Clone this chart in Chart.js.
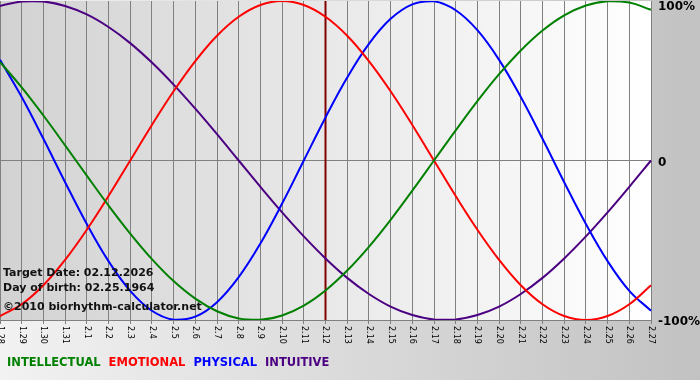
<!DOCTYPE html>
<html>
<head>
<meta charset="utf-8">
<script src="https://cdn.jsdelivr.net/npm/chart.js@4.4.1/dist/chart.umd.min.js"></script>
<style>
  html, body { margin: 0; padding: 0; background: #fff; }
  canvas { display: block; }
</style>
</head>
<body>
<canvas id="bio" width="700" height="380"></canvas>
<script>
// Biorhythm chart -- 31 days around the target date, one value per day.
var DAYS = ["1.28", "1.29", "1.30", "1.31", "2.1", "2.2", "2.3", "2.4", "2.5", "2.6",
  "2.7", "2.8", "2.9", "2.10", "2.11", "2.12", "2.13", "2.14", "2.15", "2.16", "2.17",
  "2.18", "2.19", "2.20", "2.21", "2.22", "2.23", "2.24", "2.25", "2.26", "2.27"];

var INTELLECTUAL = [0.618, 0.458, 0.282, 0.095, -0.095, -0.282, -0.458, -0.618, -0.756, -0.866,
  -0.945, -0.990, -0.999, -0.972, -0.910, -0.815, -0.690, -0.541, -0.372, -0.189, 0,
  0.189, 0.372, 0.541, 0.690, 0.815, 0.910, 0.972, 0.999, 0.990, 0.945];
var EMOTIONAL = [-0.975, -0.901, -0.782, -0.623, -0.434, -0.223, 0, 0.223, 0.434, 0.623,
  0.782, 0.901, 0.975, 1, 0.975, 0.901, 0.782, 0.623, 0.434, 0.223, 0,
  -0.223, -0.434, -0.623, -0.782, -0.901, -0.975, -1, -0.975, -0.901, -0.782];
var PHYSICAL = [0.631, 0.398, 0.136, -0.136, -0.398, -0.631, -0.817, -0.942, -0.998, -0.979,
  -0.888, -0.731, -0.520, -0.270, 0, 0.270, 0.520, 0.731, 0.888, 0.979, 0.998,
  0.942, 0.817, 0.631, 0.398, 0.136, -0.136, -0.398, -0.631, -0.817, -0.942];
var INTUITIVE = [0.969, 0.997, 0.997, 0.969, 0.916, 0.837, 0.736, 0.614, 0.476, 0.325,
  0.165, 0, -0.165, -0.325, -0.476, -0.614, -0.736, -0.837, -0.916, -0.969, -0.997,
  -0.997, -0.969, -0.916, -0.837, -0.736, -0.614, -0.476, -0.325, -0.165, 0];

var SERIES_NAMES = ["INTELLECTUAL", "EMOTIONAL", "PHYSICAL", "INTUITIVE"];
var Y_TICKS = [1, 0, -1];
var Y_TICK_LABELS = ["100%", "0", "-100%"];
var TARGET_DAY = "2.12";
var INFO_LINES = ["Target Date: 02.12.2026", "Day of birth: 02.25.1964", "\u00a92010 biorhythm-calculator.net"];

var COLORS = {
  INTELLECTUAL: "#008000",
  EMOTIONAL: "#ff0000",
  PHYSICAL: "#0000ff",
  INTUITIVE: "#4b0082",
};
var FONT = "'DejaVu Sans', Verdana, sans-serif";

function dataset(name, values) {
  return {
    label: name,
    data: values,
    borderColor: COLORS[name],
    borderWidth: 2,
    pointRadius: 0,
    tension: 0.4,
    fill: false,
  };
}

var decorations = {
  id: "decorations",
  beforeDraw: function (chart) {
    var ctx = chart.ctx, a = chart.chartArea;
    ctx.save();
    var bg = ctx.createLinearGradient(0, 0, chart.width, 0);
    bg.addColorStop(0, "#f2f2f2");
    bg.addColorStop(1, "#c2c2c2");
    ctx.fillStyle = bg;
    ctx.fillRect(0, 0, chart.width, chart.height);
    var pg = ctx.createLinearGradient(a.left, 0, a.right, 0);
    pg.addColorStop(0, "#d2d2d2");
    pg.addColorStop(1, "#ffffff");
    ctx.fillStyle = pg;
    ctx.fillRect(a.left, a.top, a.right - a.left, a.bottom - a.top);
    ctx.restore();
  },
  beforeDatasetsDraw: function (chart) {
    var ctx = chart.ctx, a = chart.chartArea;
    var x = chart.scales.x.getPixelForValue(DAYS.indexOf(TARGET_DAY));
    ctx.save();
    ctx.strokeStyle = "#800000";
    ctx.lineWidth = 2;
    ctx.beginPath();
    ctx.moveTo(x, a.top);
    ctx.lineTo(x, a.bottom);
    ctx.stroke();
    ctx.restore();
  },
  afterDraw: function (chart) {
    var ctx = chart.ctx, a = chart.chartArea;
    var xs = chart.scales.x, ys = chart.scales.y;
    ctx.save();
    ctx.fillStyle = "#000";

    // day labels, rotated to read top-down
    ctx.font = "8px " + FONT;
    ctx.textAlign = "left";
    ctx.textBaseline = "middle";
    DAYS.forEach(function (d, i) {
      ctx.save();
      ctx.translate(xs.getPixelForValue(i), a.bottom + 6);
      ctx.rotate(Math.PI / 2);
      ctx.fillText(d, 0, 0);
      ctx.restore();
    });

    // percent labels on the right
    ctx.font = "bold 12px " + FONT;
    Y_TICKS.forEach(function (v, i) {
      var y = Math.max(ys.getPixelForValue(v) + 2, 7);
      ctx.fillText(Y_TICK_LABELS[i], a.right + 7, y);
    });

    // info block
    ctx.font = "bold 11px " + FONT;
    ctx.textBaseline = "alphabetic";
    ctx.fillStyle = "#111";
    ctx.fillText(INFO_LINES[0], 3, 276);
    ctx.fillText(INFO_LINES[1], 3, 291);
    ctx.fillText(INFO_LINES[2], 3, 310);

    // legend
    ctx.font = "bold 11.5px " + FONT;
    var lx = 7;
    SERIES_NAMES.forEach(function (name) {
      ctx.fillStyle = COLORS[name];
      ctx.fillText(name, lx, 366);
      lx += ctx.measureText(name).width + 8;
    });
    ctx.restore();
  },
};

new Chart(document.getElementById("bio"), {
  type: "line",
  data: {
    labels: DAYS,
    datasets: [
      dataset("INTELLECTUAL", INTELLECTUAL),
      dataset("EMOTIONAL", EMOTIONAL),
      dataset("PHYSICAL", PHYSICAL),
      dataset("INTUITIVE", INTUITIVE),
    ],
  },
  options: {
    responsive: false,
    animation: false,
    layout: { padding: { left: 0, top: 1, right: 49, bottom: 56 } },
    plugins: { legend: { display: false }, tooltip: { enabled: false } },
    scales: {
      x: {
        type: "category",
        offset: false,
        grid: { color: "#808080", lineWidth: 1, drawTicks: true, tickLength: 4 },
        border: { color: "#808080" },
        ticks: { display: false, autoSkip: false },
      },
      y: {
        position: "right",
        min: -1,
        max: 1,
        ticks: { display: false, stepSize: 1 },
        grid: {
          drawTicks: false,
          color: function (c) { return c.tick && c.tick.value === 1 ? "rgba(0,0,0,0)" : "#808080"; },
        },
        border: { color: "#808080" },
      },
    },
  },
  plugins: [decorations],
});
</script>
</body>
</html>
